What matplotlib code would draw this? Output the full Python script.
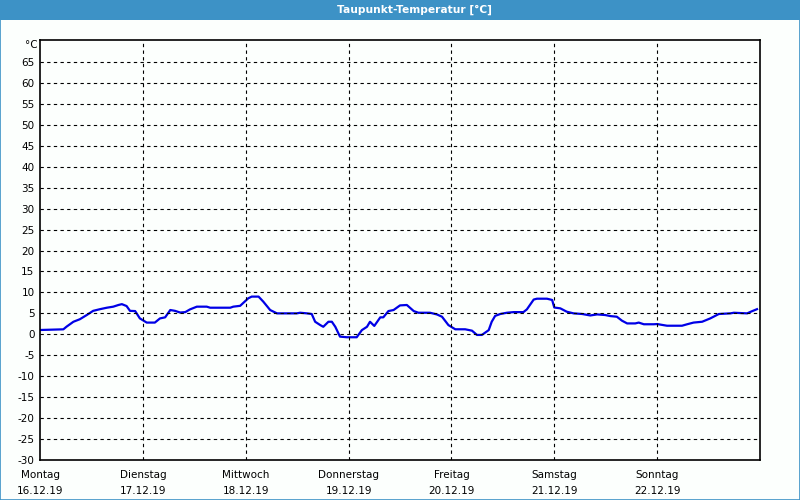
import matplotlib
matplotlib.use("Agg")
import matplotlib.pyplot as plt
from matplotlib.patches import Rectangle

# hours since Monday 16.12.19 00:00
hours = [0, 5.45, 6.2, 7.8, 9.3, 10.9, 12.4, 14.0, 15.6, 17.1, 18.3, 19.1, 20.2, 21.0,
         22.2, 23.3, 24.9, 26.8, 28.0, 29.2, 30.4, 31.5, 32.7, 33.9, 35.0, 36.6, 38.9,
         39.7, 44.4, 45.1, 46.7, 48.6, 49.4, 51.0, 52.1, 53.7, 55.3, 59.9, 60.7, 62.3,
         63.4, 64.2, 65.4, 66.1, 67.3, 68.1, 68.9, 70.0, 71.6, 73.9, 75.1, 76.3, 77.0,
         78.0, 79.4, 80.1, 81.3, 82.5, 84.0, 85.6, 87.2, 88.3, 91.0, 92.6, 93.8, 95.3,
         96.9, 99.2, 100.8, 101.95, 103.1, 104.7, 105.4, 106.2, 107.4, 108.95, 110.5,
         112.8, 113.6, 115.2, 115.95, 118.3, 119.5, 120.0, 121.4, 122.9, 124.5, 126.5,
         128.4, 130.0, 131.9, 133.1, 134.6, 135.8, 137.0, 138.9, 139.7, 140.9, 143.2,
         144.0, 146.3, 149.8, 151.0, 152.5, 154.5, 156.4, 158.4, 161.1, 161.9, 165.0,
         166.1, 167.3]
taupunkt = [1.03, 1.19, 1.83, 3.0, 3.6, 4.6, 5.6, 6.0, 6.35, 6.6, 7.0, 7.2, 6.75, 5.6,
            5.55, 3.8, 2.8, 2.8, 3.8, 4.05, 5.8, 5.6, 5.2, 5.3, 5.95, 6.6, 6.6,
            6.35, 6.35, 6.6, 6.8, 8.6, 9.0, 9.0, 7.8, 5.8, 5.0, 5.0, 5.15, 5.0,
            4.85, 3.0, 2.2, 1.8, 3.0, 3.0, 1.8, -0.55, -0.7, -0.7, 1.0, 1.8, 3.0,
            2.0, 4.05, 4.05, 5.55, 5.8, 6.9, 7.0, 5.55, 5.15, 5.15, 4.75, 4.2, 2.2,
            1.2, 1.2, 0.87, -0.15, -0.15, 1.0, 3.0, 4.4, 4.85, 5.15, 5.3,
            5.3, 5.95, 8.3, 8.5, 8.5, 8.2, 6.4, 6.2, 5.4, 5.0, 4.85,
            4.5, 4.75, 4.6, 4.35, 4.2, 3.25, 2.6, 2.6, 2.8, 2.4, 2.4,
            2.45, 2.05, 2.05, 2.4, 2.8, 3.0, 3.8, 4.85, 5.0, 5.15, 5.0,
            5.5, 6.0]

tage = ["Montag", "Dienstag", "Mittwoch", "Donnerstag", "Freitag", "Samstag", "Sonntag"]
daten = ["16.12.19", "17.12.19", "18.12.19", "19.12.19", "20.12.19", "21.12.19", "22.12.19"]
yticks = list(range(-30, 70, 5))

blau = "#3d92c6"

fig = plt.figure(figsize=(8, 5), dpi=100, facecolor="#fcfffd")
# title bar and frame
fig.patches.append(Rectangle((0, 0.96), 1, 0.04, transform=fig.transFigure,
                             facecolor=blau, edgecolor="none"))
fig.patches.append(Rectangle((0.0006, 0.001), 0.9988, 0.998, transform=fig.transFigure,
                             facecolor="none", edgecolor=blau, linewidth=1.2))
fig.text(0.518, 0.98, "Taupunkt-Temperatur [°C]", color="white", fontsize=7.7,
         fontweight="bold", ha="center", va="center")

ax = fig.add_axes([0.05, 0.08, 0.9, 0.84])
ax.set_facecolor("#fcfffd")
ax.plot(hours, taupunkt, color="#0000e6", linewidth=1.6)

ax.set_xlim(0, 168)
ax.set_ylim(-30, 70.25)
ax.set_yticks(yticks)
ax.set_yticklabels([str(v) for v in yticks], fontsize=7.5)
ax.set_xticks([24 * i for i in range(7)])
ax.set_xticklabels([t + "\n" + d for t, d in zip(tage, daten)], fontsize=7.5,
                   linespacing=1.75)
ax.tick_params(axis="y", length=0, pad=4)
ax.tick_params(axis="x", length=0, pad=7)

for v in yticks[1:]:
    ax.axhline(v, color="black", linewidth=0.8, linestyle=(0, (3, 3)))
for i in range(1, 7):
    ax.axvline(24 * i, color="black", linewidth=0.8, linestyle=(0, (3, 3)))

for s in ax.spines.values():
    s.set_linewidth(1.2)
    s.set_color("black")

fig.text(0.047, 0.91, "°C", fontsize=7.5, ha="right", va="center")

fig.savefig("out.png", dpi=100, facecolor=fig.get_facecolor())
